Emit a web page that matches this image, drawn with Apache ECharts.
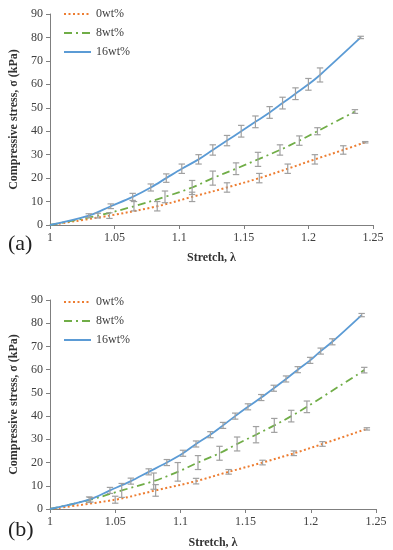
<!DOCTYPE html>
<html>
<head>
<meta charset="utf-8">
<script src="https://cdn.jsdelivr.net/npm/echarts@6/dist/echarts.min.js"></script>
<style>html,body{margin:0;padding:0;background:#fff}#c{width:393px;height:550px}</style>
</head>
<body>
<div id="c"></div>
<script>
// ---------- Data: panel (a) ----------
const seriesNames = ['0wt%', '8wt%', '16wt%'];

const aLam0  = [1, 1.046, 1.083, 1.110, 1.137, 1.162, 1.184, 1.205, 1.227, 1.244];
const aSig0  = [0, 4, 8, 12, 16, 20, 24, 28, 32, 35.3];
const aErr0  = [0, 1.2, 2, 2, 2, 2, 2, 2, 1.8, 0.3];

const aLam8  = [1, 1.037, 1.065, 1.089, 1.110, 1.126, 1.144, 1.161, 1.178, 1.193, 1.207, 1.236];
const aSig8  = [0, 4, 8, 12, 16, 20, 24, 28, 32, 36, 40, 48.4];
const aErr8  = [0, 1, 2, 2.5, 3, 3, 2.5, 3, 2.2, 2, 1.5, 0.8];

const aLam16 = [1, 1.030, 1.047, 1.064, 1.078, 1.090, 1.102, 1.115, 1.126, 1.137, 1.148, 1.159, 1.170, 1.180, 1.190, 1.200, 1.209, 1.2405];
const aSig16 = [0, 4, 8, 12, 16, 20, 24, 28, 32, 36, 40, 44, 48, 52, 56, 60, 64, 80];
const aErr16 = [0, 0.8, 1, 1.5, 1.5, 1.8, 2, 2, 2.2, 2.2, 2.5, 2.5, 2.5, 2.5, 2.5, 2.5, 3, 0.5];

// ---------- Data: panel (b) ----------
const bLam0  = [1, 1.050, 1.081, 1.112, 1.137, 1.163, 1.187, 1.209, 1.243];
const bSig0  = [0, 4, 8, 12, 16, 20, 24, 28, 34.5];
const bErr0  = [0, 1.5, 2.5, 1.2, 1, 1, 1, 1, 0.5];

const bLam8  = [1, 1.031, 1.055, 1.0795, 1.098, 1.1135, 1.130, 1.1435, 1.158, 1.172, 1.185, 1.197, 1.241];
const bSig8  = [0, 4, 8, 12, 16, 20, 24, 28, 32, 36, 40, 44, 59.8];
const bErr8  = [0, 1, 3, 3.5, 4, 3, 3, 3, 3.5, 3, 2.5, 2.5, 1.2];

const bLam16 = [1, 1.030, 1.046, 1.062, 1.0757, 1.0896, 1.102, 1.112, 1.123, 1.1327, 1.142, 1.1518, 1.162, 1.1716, 1.181, 1.190, 1.1995, 1.2076, 1.2165, 1.239];
const bSig16 = [0, 4, 8, 12, 16, 20, 24, 28, 32, 36, 40, 44, 48, 52, 56, 60, 64, 68, 72, 83.5];
const bErr16 = [0, 1.2, 1.3, 1.3, 1.3, 1.3, 1.3, 1.3, 1.3, 1.3, 1.3, 1.3, 1.3, 1.3, 1.3, 1.3, 1.3, 1.3, 1.3, 0.7];

// ---------- Build ----------
const FONT = '"Liberation Serif", "Times New Roman", serif';
const colors = ['#ED7D31', '#70AD47', '#5B9BD5'];
const lineTypes = [[2, 2.5], [8, 4, 2, 4], 'solid'];
const errColor = '#a0a0a0';

function zip(l, s) { return l.map((v, i) => [v, s[i]]); }
function zip3(l, s, e) { return l.map((v, i) => [v, s[i], e[i]]).filter(d => d[2] > 0); }

function errorRender(params, api) {
  const x = api.value(0), y = api.value(1), e = api.value(2);
  const hi = api.coord([x, y + e]);
  const lo = api.coord([x, y - e]);
  const w = 3.2;
  const st = { stroke: errColor, lineWidth: 1.2 };
  return {
    type: 'group',
    children: [
      { type: 'line', shape: { x1: hi[0], y1: hi[1], x2: lo[0], y2: lo[1] }, style: st },
      { type: 'line', shape: { x1: hi[0] - w, y1: hi[1], x2: hi[0] + w, y2: hi[1] }, style: st },
      { type: 'line', shape: { x1: lo[0] - w, y1: lo[1], x2: lo[0] + w, y2: lo[1] }, style: st }
    ]
  };
}

const panels = [
  { lam: [aLam0, aLam8, aLam16], sig: [aSig0, aSig8, aSig16], err: [aErr0, aErr8, aErr16] },
  { lam: [bLam0, bLam8, bLam16], sig: [bSig0, bSig8, bSig16], err: [bErr0, bErr8, bErr16] }
];

const series = [];
panels.forEach((p, pi) => {
  for (let k = 0; k < 3; k++) {
    series.push({
      type: 'custom',
      xAxisIndex: pi, yAxisIndex: pi,
      renderItem: errorRender,
      encode: { x: 0, y: 1 },
      data: zip3(p.lam[k], p.sig[k], p.err[k]),
      z: 3, silent: true
    });
  }
  for (let k = 0; k < 3; k++) {
    series.push({
      name: seriesNames[k],
      type: 'line',
      xAxisIndex: pi, yAxisIndex: pi,
      data: zip(p.lam[k], p.sig[k]),
      smooth: 0.35,
      symbol: 'none',
      lineStyle: { color: colors[k], width: k === 0 ? 2 : 1.8, type: lineTypes[k] },
      itemStyle: { color: colors[k] },
      z: 2, silent: true
    });
  }
});

const grids = [
  { left: 48, top: 14, width: 325, height: 211 },
  { left: 47, top: 300, width: 329, height: 209 }
];

function xAxis(i) {
  return {
    type: 'value', gridIndex: i, min: 1, max: 1.25, interval: 0.05,
    name: 'Stretch, λ', nameLocation: 'middle', nameGap: i === 0 ? 27 : 28,
    nameTextStyle: { fontFamily: FONT, fontWeight: 'bold', fontSize: 12, color: '#333' },
    axisLine: { show: true, onZero: false, lineStyle: { color: '#7f7f7f', width: 1 } },
    axisTick: { show: true, inside: false, length: 4, lineStyle: { color: '#7f7f7f' } },
    axisLabel: { fontFamily: FONT, fontSize: 12, color: '#404040', margin: 7 },
    splitLine: { show: false }
  };
}
function yAxis(i) {
  return {
    type: 'value', gridIndex: i, min: 0, max: 90, interval: 10,
    name: 'Compressive stress, σ (kPa)', nameLocation: 'middle', nameGap: 30,
    nameTextStyle: { fontFamily: FONT, fontWeight: 'bold', fontSize: 12, color: '#333' },
    axisLine: { show: true, onZero: false, lineStyle: { color: '#7f7f7f', width: 1 } },
    axisTick: { show: true, inside: false, length: 4, lineStyle: { color: '#7f7f7f' } },
    axisLabel: { fontFamily: FONT, fontSize: 12, color: '#404040', margin: 7 },
    splitLine: { show: false }
  };
}

function legend(top) {
  return {
    data: seriesNames, orient: 'vertical', left: 58, top: top,
    itemWidth: 27, itemHeight: 10, itemGap: 7,
    itemStyle: { opacity: 0 },
    textStyle: { fontFamily: FONT, fontSize: 12, color: '#404040' },
    selectedMode: false
  };
}

const option = {
  animation: false,
  backgroundColor: '#fff',
  grid: grids,
  xAxis: [xAxis(0), xAxis(1)],
  yAxis: [yAxis(0), yAxis(1)],
  legend: [legend(3), legend(291)],
  series: series,
  graphic: [
    { type: 'text', left: 8, top: 233, style: { text: '(a)', fontFamily: FONT, fontSize: 22, fill: '#222' } },
    { type: 'text', left: 8, top: 519, style: { text: '(b)', fontFamily: FONT, fontSize: 22, fill: '#222' } }
  ]
};

const chart = echarts.init(document.getElementById('c'), null, { renderer: 'canvas' });
chart.setOption(option);
</script>
</body>
</html>
